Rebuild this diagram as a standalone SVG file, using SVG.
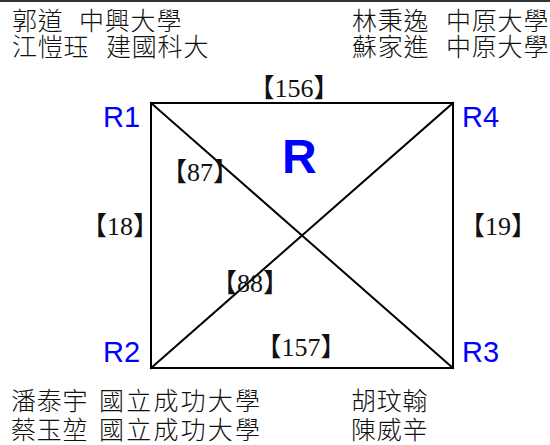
<svg xmlns="http://www.w3.org/2000/svg" width="550" height="445" viewBox="0 0 550 445">
<style>
.cjk{font-family:"Noto Sans CJK TC","Noto Sans CJK JP",sans-serif;font-size:25px;font-weight:300;letter-spacing:0.8px;fill:#111}
.wide{letter-spacing:2.2px}
.node{font-family:"Liberation Sans",Arial,sans-serif;font-size:29px;fill:#0000ff}
.lbl{font-family:"Liberation Serif","Noto Sans CJK JP",serif;font-size:26px;fill:#111;text-anchor:middle}
.edge{stroke:#000;stroke-width:2;fill:none;stroke-linecap:square}
</style>
<rect width="550" height="445" fill="#fff"/>
<line x1="0" y1="1" x2="550" y2="1" stroke="#333" stroke-width="2"/>
<g id="authors-top-left" class="cjk">
<text x="12" y="30">郭道</text><text x="79" y="30">中興大學</text>
<text x="12" y="56">江愷珏</text><text x="106" y="56">建國科大</text>
</g>
<g id="authors-top-right" class="cjk">
<text x="352" y="30">林秉逸</text><text x="446" y="30">中原大學</text>
<text x="352" y="56">蘇家進</text><text x="446" y="56">中原大學</text>
</g>
<g id="authors-bottom" class="cjk">
<text x="11" y="410">潘泰宇</text><text class="wide" x="99" y="410">國立成功大學</text>
<text x="11" y="439">蔡玉堃</text><text class="wide" x="99" y="439">國立成功大學</text>
<text x="351" y="410">胡玟翰</text><text x="351" y="439">陳威辛</text>
</g>
<g id="connectors">
<line class="edge" x1="151" y1="103" x2="453" y2="103"/>
<line class="edge" x1="151" y1="368" x2="453" y2="368"/>
<line class="edge" x1="151" y1="103" x2="151" y2="368"/>
<line class="edge" x1="453" y1="103" x2="453" y2="368"/>
<line class="edge" x1="151" y1="103" x2="453" y2="368"/>
<line class="edge" x1="453" y1="103" x2="151" y2="368"/>
<text class="lbl" x="294" y="97">【156】</text>
<text class="lbl" x="200" y="181">【87】</text>
<text class="lbl" x="120" y="235">【18】</text>
<text class="lbl" x="498" y="235">【19】</text>
<text class="lbl" x="250" y="292">【88】</text>
<text class="lbl" x="301" y="356">【157】</text>
</g>
<g id="R1"><text class="node" x="103" y="127">R1</text></g>
<g id="R4"><text class="node" x="462" y="127">R4</text></g>
<g id="R2"><text class="node" x="103" y="362">R2</text></g>
<g id="R3"><text class="node" x="462" y="362">R3</text></g>
<g id="R"><text x="282" y="173" style="font-family:'Liberation Sans',Arial,sans-serif;font-size:48px;font-weight:bold;fill:#0000ff">R</text></g>
</svg>
